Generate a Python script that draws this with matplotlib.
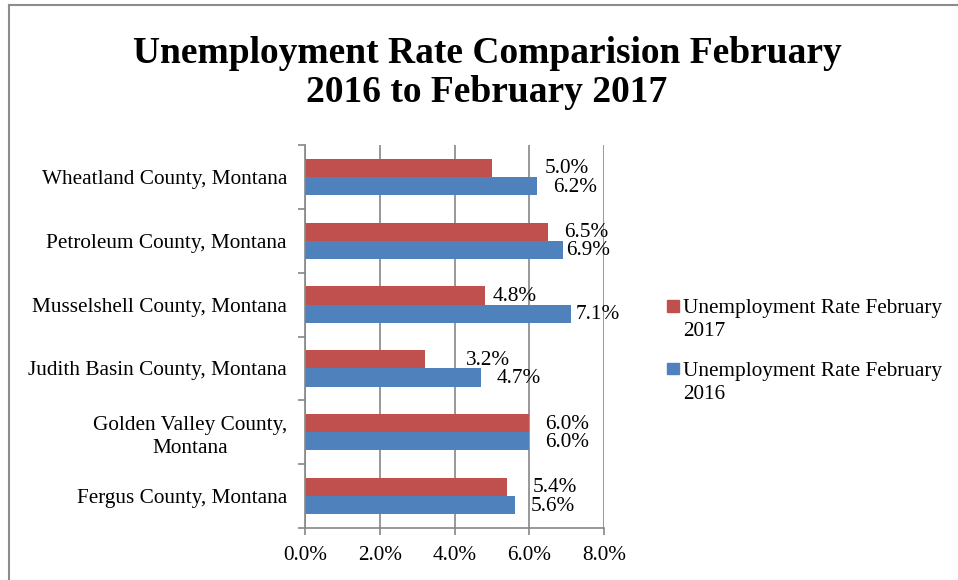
import matplotlib
matplotlib.use("Agg")
import matplotlib.pyplot as plt
from matplotlib.patches import Rectangle
from matplotlib.lines import Line2D
from matplotlib.ticker import FixedLocator

plt.rcParams["font.family"] = ["Liberation Serif", "DejaVu Serif"]

# Data (listed top to bottom as shown on the chart)
counties = [
    "Wheatland County, Montana",
    "Petroleum County, Montana",
    "Musselshell County, Montana",
    "Judith Basin County, Montana",
    "Golden Valley County,\nMontana",
    "Fergus County, Montana",
]
rate_2017 = [5.0, 6.5, 4.8, 3.2, 6.0, 5.4]
rate_2016 = [6.2, 6.9, 7.1, 4.7, 6.0, 5.6]
series_names = ["Unemployment Rate February\n2017", "Unemployment Rate February\n2016"]
x_ticks = [0, 2, 4, 6, 8]
title = "Unemployment Rate Comparision February\n2016 to February 2017"

# Horizontal nudges (pixels) for the value labels
label_shift_2017 = [53, 16, 8, 41, 16, 26]
label_shift_2016 = [16, 3, 5, 16, 16, 16]

RED = "#C0504D"
BLUE = "#4F81BD"
GRID = "#868686"
FS = 15.3

W, H = 958, 580
fig = plt.figure(figsize=(W / 100, H / 100), dpi=100)
fig.patch.set_facecolor("white")

ax = fig.add_axes([305 / W, 1 - 528 / H, (604.3 - 305) / W, (528 - 145) / H])

n = len(counties)
ypos = [n - 1 - i for i in range(n)]
h = 0.285

ax.barh([y + h / 2 for y in ypos], rate_2017, height=h, color=RED, zorder=2)
ax.barh([y - h / 2 for y in ypos], rate_2016, height=h, color=BLUE, zorder=2)

for y, v, dx in zip(ypos, rate_2017, label_shift_2017):
    ax.annotate(f"{v:.1f}%", xy=(v, y + h / 2), xytext=(dx, -1),
                textcoords="offset pixels", ha="left", va="center",
                fontsize=FS, color="black", zorder=3)
for y, v, dx in zip(ypos, rate_2016, label_shift_2016):
    ax.annotate(f"{v:.1f}%", xy=(v, y - h / 2), xytext=(dx, -1),
                textcoords="offset pixels", ha="left", va="center",
                fontsize=FS, color="black", zorder=3)

ax.set_xlim(x_ticks[0], x_ticks[-1])
ax.set_ylim(-0.5, n - 0.5)
ax.set_xticks(x_ticks)
ax.set_xticklabels([f"{t:.1f}%" for t in x_ticks], fontsize=FS)
ax.set_yticks(ypos)
ax.set_yticklabels(counties, fontsize=FS, ha="right", multialignment="center",
                   linespacing=1.3)
ax.yaxis.set_minor_locator(FixedLocator([i - 0.5 for i in range(n + 1)]))

ax.tick_params(axis="y", which="major", length=0, pad=13)
ax.tick_params(axis="y", which="minor", length=5, width=1.2, color=GRID, direction="out")
ax.tick_params(axis="x", which="major", length=5, width=1.2, color=GRID, direction="out", pad=8)

ax.grid(axis="x", color=GRID, linewidth=1.2, zorder=0)
ax.set_axisbelow(True)
for side in ("top", "right"):
    ax.spines[side].set_visible(False)
for side in ("left", "bottom"):
    ax.spines[side].set_color(GRID)
    ax.spines[side].set_linewidth(1.2)

# Title (baseline given for the last line)
fig.text(487 / W, 1 - 102 / H, title, ha="center", va="baseline",
         fontsize=27, fontweight="bold", linespacing=1.15)

# Legend: square sits on the first line, text baseline given for the last line
legend_rows = [(RED, series_names[0], 311.7, 336.5), (BLUE, series_names[1], 374, 399)]
for color, label, sq_bottom, base in legend_rows:
    fig.patches.append(Rectangle((667 / W, 1 - sq_bottom / H), 11.5 / W, 11.5 / H,
                                 transform=fig.transFigure, color=color))
    fig.text(683 / W, 1 - base / H, label, ha="left", va="baseline",
             fontsize=FS, linespacing=1.3)

# Chart frame
fig.add_artist(Line2D([8.5 / W, 8.5 / W], [0, 1 - 4.5 / H], transform=fig.transFigure,
                      color="#8c8c8c", linewidth=1.5))
fig.add_artist(Line2D([8.5 / W, 1], [1 - 4.5 / H, 1 - 4.5 / H], transform=fig.transFigure,
                      color="#8c8c8c", linewidth=1.5))

fig.savefig("out.png", dpi=100)
